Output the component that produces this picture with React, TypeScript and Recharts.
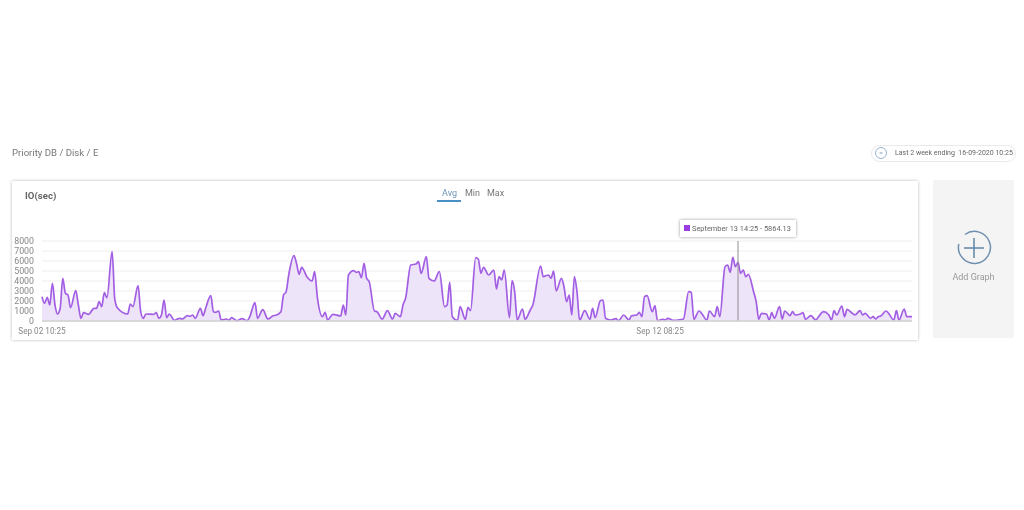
import {
  AreaChart,
  Area,
  XAxis,
  YAxis,
  CartesianGrid,
  ReferenceLine,
} from "recharts";

// hours since Sep 02 10:25, only the turning points
const hours = [
  0, 1, 2, 3, 4, 5, 6, 7, 8, 9, 10, 11, 13, 14, 15, 16, 18, 20, 21, 22, 23, 24, 25, 27, 28, 29, 33, 34, 35, 37,
  38, 39, 40, 43, 44, 45, 46, 47, 48, 49, 51, 53, 54, 56, 57, 58, 59, 61, 62, 63, 65, 66, 67, 68, 69, 71, 72, 73, 75, 77,
  79, 80, 82, 83, 85, 87, 89, 90, 92, 93, 94, 95, 97, 98, 99, 100, 102, 104, 105, 106, 108, 109, 110, 112, 115, 116, 117, 118, 120, 121,
  122, 123, 124, 125, 126, 128, 129, 131, 133, 135, 136, 138, 139, 140, 142, 144, 145, 146, 148, 149, 151, 153, 155, 156, 157, 158, 160, 161, 163, 164,
  165, 167, 168, 169, 170, 172, 174, 175, 176, 177, 178, 180, 181, 182, 183, 185, 186, 188, 189, 192, 193, 195, 196, 197, 198, 200, 201, 202, 203, 204,
  205, 206, 207, 209, 211, 212, 213, 215, 216, 217, 219, 221, 222, 224, 226, 227, 229, 230, 231, 232, 233, 235, 236, 237, 239, 240, 241, 243, 245, 247,
  249, 250, 251, 253, 254, 256, 257, 259, 260, 261, 263, 264, 265, 266, 267, 268, 269, 270, 271, 272, 274, 275, 276, 277, 279, 280, 281, 282, 284, 285,
  286, 288, 289, 290, 292, 293, 294, 296, 298, 299, 301, 303, 304, 305, 306, 308, 309, 310, 312, 313, 315, 316, 317, 319, 320, 321, 322, 323, 325, 326,
  328, 329, 330, 332, 333, 335,
];

const ioValues = [
  2430, 1770, 2370, 1600, 3770, 1600, 700, 1270, 4270, 2770, 2600, 1330, 3030, 1600, 270, 830, 670, 1270, 1270, 1930, 1430, 2830, 2330, 6930, 2270, 1330, 700, 1700, 1430, 3530,
  930, 270, 700, 670, 830, 270, 600, 2100, 330, 700, 70, 270, 200, 530, 470, 600, 270, 1270, 530, 1270, 2530, 930, 870, 1000, 100, 200, 70, 330, 30, 230,
  30, 430, 1830, 270, 1130, 200, 530, 570, 930, 2600, 2930, 4600, 6530, 5770, 4670, 5370, 4430, 4000, 4930, 2430, 430, 870, 100, 670, 500, 1600, 600, 4600, 5030, 4870,
  4930, 4330, 5770, 4270, 3930, 1000, 930, 200, 1030, 200, 770, 430, 1600, 2270, 5600, 5700, 5930, 4770, 6430, 4270, 4000, 4930, 1430, 1600, 3870, 430, 70, 1430, 170, 1370,
  1030, 6330, 6200, 4770, 5370, 4600, 5100, 3200, 4430, 4100, 5100, 330, 4030, 2930, 100, 1200, 170, 1100, 1600, 5500, 4430, 4600, 4270, 5000, 3000, 4270, 3430, 1930, 2600, 600,
  4430, 2930, 100, 1030, 170, 1270, 330, 2030, 2100, 270, 100, 230, 30, 600, 100, 530, 600, 870, 430, 2430, 2530, 930, 1530, 30, 170, 100, 270, 70, 100, 200,
  2930, 2870, 170, 1000, 770, 100, 1000, 430, 1430, 430, 5430, 5600, 4870, 6370, 5430, 5864.13, 4770, 5100, 4430, 4670, 2930, 1930, 170, 770, 700, 100, 830, 270, 1430, 200,
  1000, 530, 930, 600, 700, 830, 170, 530, 100, 430, 930, 600, 100, 1030, 600, 1500, 430, 1170, 770, 600, 1030, 600, 770, 270, 430, 200, 430, 500, 1000, 770,
  100, 1030, 100, 1200, 430, 430,
];

const yTicks = [0, 1000, 2000, 3000, 4000, 5000, 6000, 7000, 8000];
const xTicks = [0, 238];
const xTickLabels = ["Sep 02 10:25", "Sep 12 08:25"];
const cursorHour = 268;
const tabs = ["Avg", "Min", "Max"];

const chartData = hours.map((hour, i) => ({ hour, io: ioValues[i] }));

const FONT = "Roboto, sans-serif";

export default function App() {
  return (
    <div
      style={{
        position: "absolute",
        left: 0,
        top: 0,
        width: 1024,
        height: 510,
        background: "#fff",
        overflow: "hidden",
        fontFamily: FONT,
        filter: "blur(0.4px)",
      }}
    >
      <div style={{ position: "absolute", left: 12, top: 147, fontSize: 9.6, color: "#777" }}>
        Priority DB / Disk / E
      </div>

      <div
        style={{
          position: "absolute",
          left: 871,
          top: 145,
          width: 145,
          height: 17,
          border: "1px solid #e8eaee",
          borderRadius: 9,
          boxSizing: "border-box",
        }}
      />
      <svg style={{ position: "absolute", left: 873, top: 145 }} width={16} height={16}>
        <circle cx={8} cy={8} r={5.5} fill="none" stroke="#9db4d2" strokeWidth={1} />
        <line x1={6.5} y1={8} x2={9.5} y2={8} stroke="#7f9cc0" strokeWidth={1} />
      </svg>
      <div
        style={{
          position: "absolute",
          left: 895,
          top: 149,
          fontSize: 7,
          color: "#666",
          whiteSpace: "nowrap",
        }}
      >
        Last 2 week ending&nbsp; 16-09-2020 10:25
      </div>

      {/* main card */}
      <div
        style={{
          position: "absolute",
          left: 12,
          top: 181,
          width: 906,
          height: 159,
          background: "#fff",
          boxShadow: "0 0 3px rgba(0,0,0,0.28)",
        }}
      />
      <div
        style={{
          position: "absolute",
          left: 25,
          top: 190,
          fontSize: 9.6,
          fontWeight: 700,
          color: "#666",
        }}
      >
        IO(sec)
      </div>
      {tabs.map((tab, i) => (
        <div
          key={tab}
          style={{
            position: "absolute",
            left: [442, 465, 487][i],
            top: 188,
            fontSize: 9,
            color: i === 0 ? "#6d94b8" : "#777",
          }}
        >
          {tab}
        </div>
      ))}
      <div
        style={{
          position: "absolute",
          left: 437,
          top: 200,
          width: 24,
          height: 2,
          background: "#4a90c4",
        }}
      />

      <div style={{ position: "absolute", left: 12, top: 182 }}>
        <AreaChart
          width={906}
          height={158}
          data={chartData}
          margin={{ top: 59, right: 6, bottom: 0, left: 0 }}
        >
          <CartesianGrid vertical={false} stroke="#eeeeee" />
          <XAxis
            dataKey="hour"
            type="number"
            domain={[0, 335]}
            ticks={xTicks}
            interval={0}
            height={19}
            tickLine={false}
            axisLine={{ stroke: "#d0d0d0", strokeWidth: 1.5 }}
            tickMargin={1}
            tickFormatter={(h: number) => xTickLabels[xTicks.indexOf(h)]}
            tick={{ fontSize: 8.2, fill: "#888", fontFamily: FONT }}
          />
          <YAxis
            domain={[0, 8000]}
            ticks={yTicks}
            interval={0}
            width={30}
            tickLine={false}
            axisLine={false}
            tickMargin={2}
            tick={{ fontSize: 8.8, fill: "#888", fontFamily: FONT }}
          />
          <Area
            type="monotone"
            dataKey="io"
            stroke="#a35fe4"
            strokeWidth={1.7}
            fill="#eee4f9"
            fillOpacity={1}
            dot={false}
            activeDot={false}
            isAnimationActive={false}
          />
          <ReferenceLine x={cursorHour} stroke="#8f8f8f" strokeWidth={1} />
        </AreaChart>
      </div>

      {/* hover box */}
      <div
        style={{
          position: "absolute",
          left: 680,
          top: 220,
          width: 116,
          height: 17,
          background: "#fff",
          boxShadow: "0 0 3px rgba(0,0,0,0.4)",
          fontSize: 7.4,
          color: "#666",
          whiteSpace: "nowrap",
          lineHeight: "17px",
        }}
      >
        <span
          style={{
            display: "inline-block",
            width: 6,
            height: 6,
            marginLeft: 4,
            marginRight: 2,
            background: "#9b3de0",
          }}
        />
        September 13 14:25 - 5864.13
      </div>

      {/* add graph panel */}
      <div
        style={{
          position: "absolute",
          left: 933,
          top: 180,
          width: 81,
          height: 158,
          background: "#f4f4f4",
          borderRadius: 2,
        }}
      />
      <svg style={{ position: "absolute", left: 954, top: 228 }} width={40} height={40}>
        <path
          d="M 11 6.5 A 16 16 0 1 1 4.8 16"
          fill="none"
          stroke="#6f8fb0"
          strokeWidth={1.5}
        />
        <line x1={10} y1={20} x2={30} y2={20} stroke="#5f84a8" strokeWidth={1.5} />
        <line x1={20} y1={10} x2={20} y2={30} stroke="#5f84a8" strokeWidth={1.5} />
      </svg>
      <div
        style={{
          position: "absolute",
          left: 933,
          width: 81,
          top: 272,
          textAlign: "center",
          fontSize: 9,
          color: "#999",
        }}
      >
        Add Graph
      </div>
    </div>
  );
}
